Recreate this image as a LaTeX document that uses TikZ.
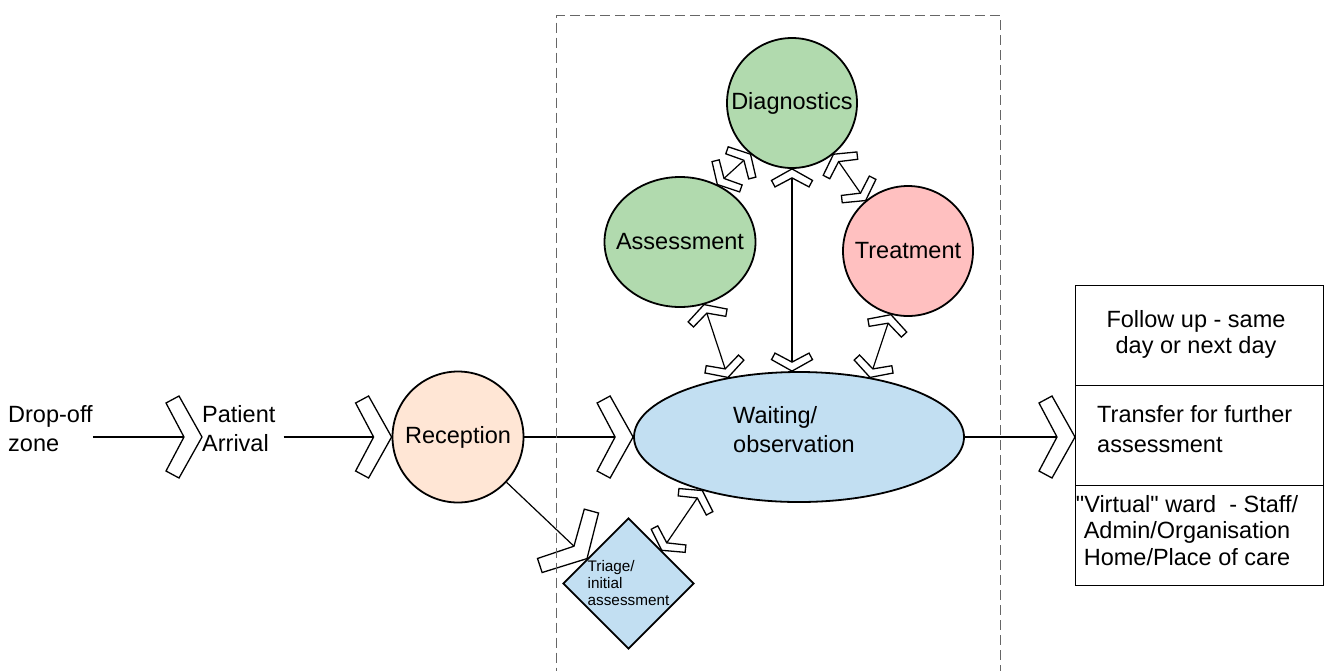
\documentclass[tikz,border=0pt]{standalone}
\usepackage{fontspec}
\setmainfont[Ligatures=TeXOff]{Liberation Sans}
\usetikzlibrary{shapes.geometric,calc}
\definecolor{recfill}{HTML}{FFE6D5}
\definecolor{bluefill}{HTML}{C2DFF2}
\definecolor{greenfill}{HTML}{B1DAAE}
\definecolor{pinkfill}{HTML}{FFC0C0}
\definecolor{dashgray}{HTML}{666666}
\begin{document}
\begin{tikzpicture}[x=1pt,y=-1pt,
  txt/.style={inner sep=0pt, font=\fontsize{23.5}{29.5}\selectfont},
  blob/.style={draw=black, line width=1.8pt, inner sep=0pt, font=\fontsize{23.5}{29}\selectfont},
  conn/.style={draw=black, line width=1.2pt},
  chevline/.style={draw=black, fill=white, line width=1.3pt, line join=miter},
  bigchev/.pic={\path[chevline] (0,0) -- (-23,-41) -- (-36,-34) -- (-18,0) -- (-36,34) -- (-23,41) -- cycle;},
  fwd/.pic={\path[chevline] (0,0) -- (-11.5,-20.5) -- (-18,-17) -- (-9,0) -- (-18,17) -- (-11.5,20.5) -- cycle;},
  bwd/.pic={\path[chevline] (0,0) -- (11.5,-20.5) -- (18,-17) -- (9,0) -- (18,17) -- (11.5,20.5) -- cycle;},
  onend/.style={pos=1, sloped, allow upside down},
  onstart/.style={pos=0, sloped, allow upside down},
  outbox/.style={draw=black, line width=1.2pt, minimum width=248pt, minimum height=100pt, inner sep=0pt, anchor=north west},
]
\useasboundingbox (0,0) rectangle (1327,670);

% nodes
\node[txt, align=left, anchor=north west] (drop) at (8,405) {Drop-off\\zone};
\node[txt, align=left, anchor=north west] (pat) at (202,405) {Patient\\Arrival};
\node[blob, circle, fill=recfill, minimum size=131pt] (rec) at (458,437) {Reception};
\node[blob, ellipse, fill=bluefill, minimum width=330pt, minimum height=130pt] (wait) at (799,437) {};
\node[txt, align=left, anchor=north west] (waitlbl) at (733,406) {Waiting/\\observation};
\node[blob, ellipse, fill=greenfill, minimum width=151pt, minimum height=130pt] (ass) at (680,242) {\makebox[0pt]{Assessment}};
\node[blob, circle, fill=greenfill, minimum size=130pt] (diag) at (792,103) {\makebox[0pt]{Diagnostics}};
\node[blob, circle, fill=pinkfill, minimum size=130pt] (treat) at (908,251) {\makebox[0pt]{Treatment}};
\node[blob, diamond, fill=bluefill, minimum width=131pt, minimum height=131pt, align=left,
      font=\fontsize{15.3}{17}\selectfont] (tri) at (628.5,583.5) {Triage/\\initial\\assessment};

\node[outbox] (b1) at (1075,285) {};
\node[outbox] (b2) at (1075,385) {};
\node[outbox] (b3) at (1075,485) {};
\node[txt, align=center, anchor=north, font=\fontsize{23.5}{26}\selectfont] (t1) at (1196,310) {Follow up - same\\day or next day};
\node[txt, align=left, anchor=north west, font=\fontsize{23.5}{30}\selectfont] (t2) at (1097,405) {Transfer for further\\assessment};
\node[txt, align=center, anchor=north, font=\fontsize{23.5}{26.5}\selectfont] (t3) at (1187,495) {"Virtual" ward\ \ - Staff/\\Admin/Organisation\\Home/Place of care};

% connectors
\draw[conn] (drop.east |- rec.center) -- (pat.west |- rec.center) pic[onend] {bigchev};
\draw[conn] ([xshift=8pt]pat.east |- rec.center) -- (rec.west) pic[onend] {bigchev};
\draw[conn] (rec.east) -- (wait.west) pic[onend] {bigchev};
\draw[conn] (rec.-43) -- (tri.149) pic[onend] {bigchev};
\draw[conn] (tri.45) -- (wait.209) pic[onstart] {bwd} pic[onend] {fwd};
\draw[conn] (ass.-69) -- (wait.140) pic[onstart] {bwd} pic[onend] {fwd};
\draw[conn] (ass.57) -- (diag.231) pic[onstart] {bwd} pic[onend] {fwd};
\draw[conn] (diag.south) -- (wait.north -| diag.south) pic[onstart] {bwd} pic[onend] {fwd};
\draw[conn] (diag.-51) -- (treat.130) pic[onstart] {bwd} pic[onend] {fwd};
\draw[conn] (treat.255) -- (wait.40) pic[onstart] {bwd} pic[onend] {fwd};
\draw[conn] (wait.east) -- (wait.east -| b2.west) pic[onend] {bigchev};

% dashed zone
\node[draw=dashgray, line width=1.4pt, dash pattern=on 10pt off 5pt, minimum width=444pt, minimum height=680pt, inner sep=0pt, anchor=north west] (zone) at (556,15) {};
\end{tikzpicture}
\end{document}
